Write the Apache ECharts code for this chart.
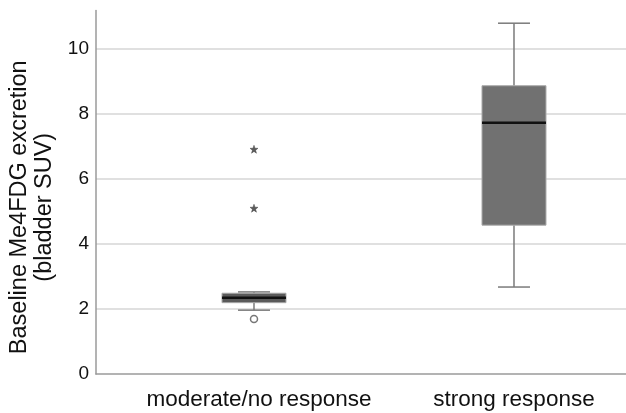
<!DOCTYPE html>
<html><head><meta charset="utf-8">
<script src="https://cdn.jsdelivr.net/npm/echarts@6/dist/echarts.min.js"></script>
<style>html,body{margin:0;padding:0;background:#fff}#c{width:626px;height:413px}</style>
</head><body><div id="c"></div>
<script>
var categories = ['moderate/no response', 'strong response'];
var whiskerLow = [1.96, 2.67];
var q1 = [2.19, 4.57];
var median = [2.34, 7.71];
var q3 = [2.48, 8.85];
var whiskerHigh = [2.52, 10.77];
var outlierCircles = [[0, 1.69]];
var extremeStars = [[0, 6.90], [0, 5.09]];
var yTicks = [0, 2, 4, 6, 8, 10];

var boxData = categories.map(function (c, i) {
  return [i, whiskerLow[i], q1[i], median[i], q3[i], whiskerHigh[i]];
});
var starPath = 'path://M0,-10L2.35,-3.24L9.51,-3.09L3.8,1.24L5.88,8.09L0,4L-5.88,8.09L-3.8,1.24L-9.51,-3.09L-2.35,-3.24Z';

var chart = echarts.init(document.getElementById('c'), null, {renderer: 'canvas'});
var FONT = 'Liberation Sans, Arial, sans-serif';
chart.setOption({
  animation: false,
  backgroundColor: '#fff',
  grid: {left: 96, right: 0, top: 10.5, bottom: 39, containLabel: false, outerBoundsMode: 'none'},
  xAxis: {
    type: 'value', min: -0.6077, max: 1.4308,
    axisLine: {show: true, onZero: false, lineStyle: {color: '#9a9a9a', width: 1.5}},
    axisTick: {show: false},
    splitLine: {show: false},
    axisLabel: {
      customValues: [0, 1],
      formatter: function (v) {
        var i = Math.round(v);
        return i === 0 ? '{a|' + categories[0] + '}' : (categories[i] || '');
      },
      rich: {a: {color: '#111', fontSize: 22.5, fontFamily: FONT, padding: [0, 0, 0, 10]}},
      color: '#111', fontSize: 22.5, fontFamily: FONT, margin: 14
    }
  },
  yAxis: {
    type: 'value', min: 0, max: 11.16, interval: 2,
    name: 'Baseline Me4FDG excretion\n(bladder SUV)',
    nameLocation: 'middle', nameRotate: 90, nameGap: 37,
    nameTextStyle: {color: '#111', fontSize: 23.5, fontFamily: FONT, lineHeight: 25, padding: [0, 30, 0, 0]},
    axisLine: {show: true, onZero: false, lineStyle: {color: '#9a9a9a', width: 1.5}},
    axisTick: {show: false},
    axisLabel: {
      showMaxLabel: false, color: '#111', fontSize: 19, fontFamily: FONT, margin: 7,
      formatter: function (v) { return yTicks.indexOf(v) >= 0 ? String(v) : ''; }
    },
    splitLine: {show: true, showMaxLine: false, showMinLine: false, lineStyle: {color: '#d6d6d6', width: 1.5}}
  },
  series: [
    {
      type: 'custom',
      data: boxData,
      encode: {x: 0, y: [1, 2, 3, 4, 5]},
      renderItem: function (params, api) {
        var i = api.value(0);
        var lo = api.coord([i, api.value(1)]);
        var b1 = api.coord([i, api.value(2)]);
        var md = api.coord([i, api.value(3)]);
        var b3 = api.coord([i, api.value(4)]);
        var hi = api.coord([i, api.value(5)]);
        var halfBox = api.size([0.246, 0])[0] / 2;
        var halfCap = api.size([0.123, 0])[0] / 2;
        var x = lo[0];
        var wStyle = {stroke: '#7a7a7a', lineWidth: 1.5};
        var fill = i === 0 ? '#5a5a5a' : '#717171';
        return {
          type: 'group',
          children: [
            {type: 'line', shape: {x1: x, y1: hi[1], x2: x, y2: b3[1]}, style: wStyle},
            {type: 'line', shape: {x1: x, y1: b1[1], x2: x, y2: lo[1]}, style: wStyle},
            {type: 'line', shape: {x1: x - halfCap, y1: hi[1], x2: x + halfCap, y2: hi[1]}, style: wStyle},
            {type: 'line', shape: {x1: x - halfCap, y1: lo[1], x2: x + halfCap, y2: lo[1]}, style: wStyle},
            {type: 'rect', shape: {x: x - halfBox, y: b3[1], width: 2 * halfBox, height: b1[1] - b3[1]},
              style: {fill: fill, stroke: '#a8a8a8', lineWidth: 1}},
            {type: 'line', shape: {x1: x - halfBox, y1: md[1], x2: x + halfBox, y2: md[1]},
              style: {stroke: '#111', lineWidth: 2.5}}
          ]
        };
      }
    },
    {
      type: 'scatter', data: outlierCircles, symbol: 'circle', symbolSize: 7,
      itemStyle: {color: '#fff', borderColor: '#555', borderWidth: 1.5}
    },
    {
      type: 'scatter', data: extremeStars, symbol: starPath, symbolSize: 8,
      itemStyle: {color: '#333', borderColor: '#333', borderWidth: 0.5}
    }
  ]
});
</script>
</body></html>
